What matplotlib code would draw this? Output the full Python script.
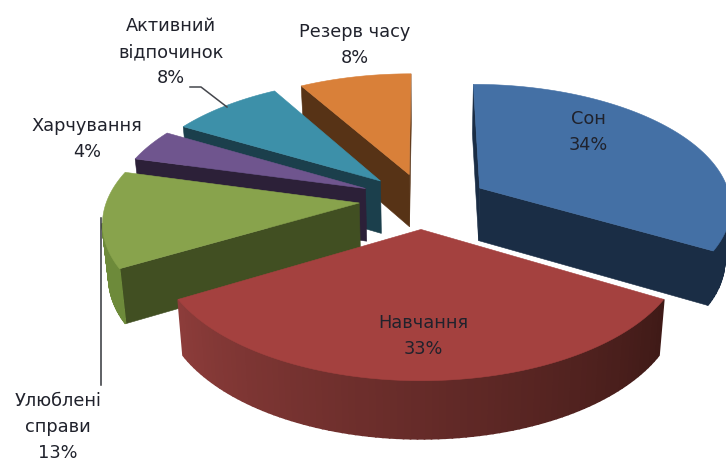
import numpy as np
import matplotlib
matplotlib.use("Agg")
import matplotlib.pyplot as plt
from matplotlib.colors import to_rgb
from matplotlib.patches import Polygon

labels = ["Сон", "Навчання", "Улюблені\nсправи", "Харчування", "Активний\nвідпочинок", "Резерв часу"]
percents = [34, 33, 13, 4, 8, 8]
# hours of the day, this is what the slices are sized from
hours = [8, 8, 3, 1, 2, 2]

top_colors = ["#4470a5", "#a4413f", "#88a34c", "#6f558e", "#3d90a9", "#d98039"]
wall_colors = ["#1a2d45", "#5a2321", "#414f22", "#2c2038", "#1b3f4c", "#573316"]
outer_start = ["#1a2d45", "#3f1a17", "#6d8a3a", "#4a3763", "#2a6a7d", "#a05e28"]
outer_end = ["#1a2d45", "#8c3c3a", "#6d8a3a", "#4a3763", "#2a6a7d", "#a05e28"]

# disc seen in perspective, all in picture pixels
CX, CY, A, HORIZON, K, H = 422, 200, 252, -700, 0.135, 53
EXPLODE = 0.25
TAPER = 0.02
# small per slice corrections in pixels
NUDGE_X = [4, -1, 0, 1, 2, 3]
NUDGE_Y = [3, -2, -1, 0, 2, 3]


def project(x, y, drop=0.0, nudge=(0, 0)):
    w = 1 + K * y
    sx = CX + A * x / w
    sy = HORIZON + (CY - HORIZON) / w + drop / w ** 0.5
    return CX + (sx - CX) * (1 - TAPER * drop / H) + nudge[0], sy + nudge[1]


def faces_viewer(nx, ny, x, y):
    return nx * (0 - x) + ny * (-1 / K - y) > 0


fig = plt.figure(figsize=(7.26, 4.62), dpi=100)
ax = fig.add_axes([0, 0, 1, 1])
ax.set_xlim(0, 726)
ax.set_ylim(462, 0)
ax.axis("off")

edges = np.cumsum([0] + hours) / sum(hours) * 2 * np.pi
order = [5, 0, 4, 3, 2, 1]
for z, i in enumerate(order):
    t0, t1 = edges[i], edges[i + 1]
    mid = (t0 + t1) / 2
    ox, oy = EXPLODE * np.sin(mid), EXPLODE * np.cos(mid)
    t = np.linspace(t0, t1, 90)
    xs, ys = ox + np.sin(t), oy + np.cos(t)
    base = 10 + z * 5
    n = (NUDGE_X[i], NUDGE_Y[i])

    # radial walls
    walls = [(xs[0], ys[0], -np.cos(t0), np.sin(t0)), (xs[-1], ys[-1], np.cos(t1), -np.sin(t1))]
    for ex, ey, nx, ny in walls:
        if faces_viewer(nx, ny, (ox + ex) / 2, (oy + ey) / 2):
            p = [project(ox, oy, 0, n), project(ex, ey, 0, n), project(ex, ey, H, n), project(ox, oy, H, n)]
            ax.add_patch(Polygon(p, fc=wall_colors[i], ec=wall_colors[i], lw=0.4, zorder=base))

    # outer wall, shaded along the arc
    c0, c1 = np.array(to_rgb(outer_start[i])), np.array(to_rgb(outer_end[i]))
    for k in range(len(t) - 1):
        if not faces_viewer(np.sin(t[k]), np.cos(t[k]), xs[k], ys[k]):
            continue
        f = k / (len(t) - 2)
        c = c0 + (c1 - c0) * f
        p = [project(xs[k], ys[k], 0, n), project(xs[k + 1], ys[k + 1], 0, n),
             project(xs[k + 1], ys[k + 1], H, n), project(xs[k], ys[k], H, n)]
        ax.add_patch(Polygon(p, fc=c, ec=c, lw=1.2, zorder=base + 1))

    top = [project(ox, oy, 0, n)] + [project(a, b, 0, n) for a, b in zip(xs, ys)]
    ax.add_patch(Polygon(top, fc=top_colors[i], ec=top_colors[i], lw=0.4, zorder=base + 2))

txt = dict(ha="center", va="center", fontsize=12.8, family="DejaVu Sans",
           color="#20222c", zorder=50, linespacing=1.6)
ax.text(588, 132, f"{labels[0]}\n{percents[0]}%", **txt)
ax.text(423, 336, f"{labels[1]}\n{percents[1]}%", **txt)
ax.text(58, 427, f"{labels[2]}\n{percents[2]}%", **txt)
ax.text(87, 139, f"{labels[3]}\n{percents[3]}%", **txt)
ax.text(171, 52, f"{labels[4]}\n{percents[4]}%", **txt)
ax.text(355, 45, f"{labels[5]}\n{percents[5]}%", **txt)

ax.plot([190, 201, 227], [87, 87, 107], color="#44464c", lw=1.1, zorder=51)
ax.plot([101, 101], [218, 385], color="#33353a", lw=1.1, zorder=51)

fig.savefig("out.png", dpi=100)
